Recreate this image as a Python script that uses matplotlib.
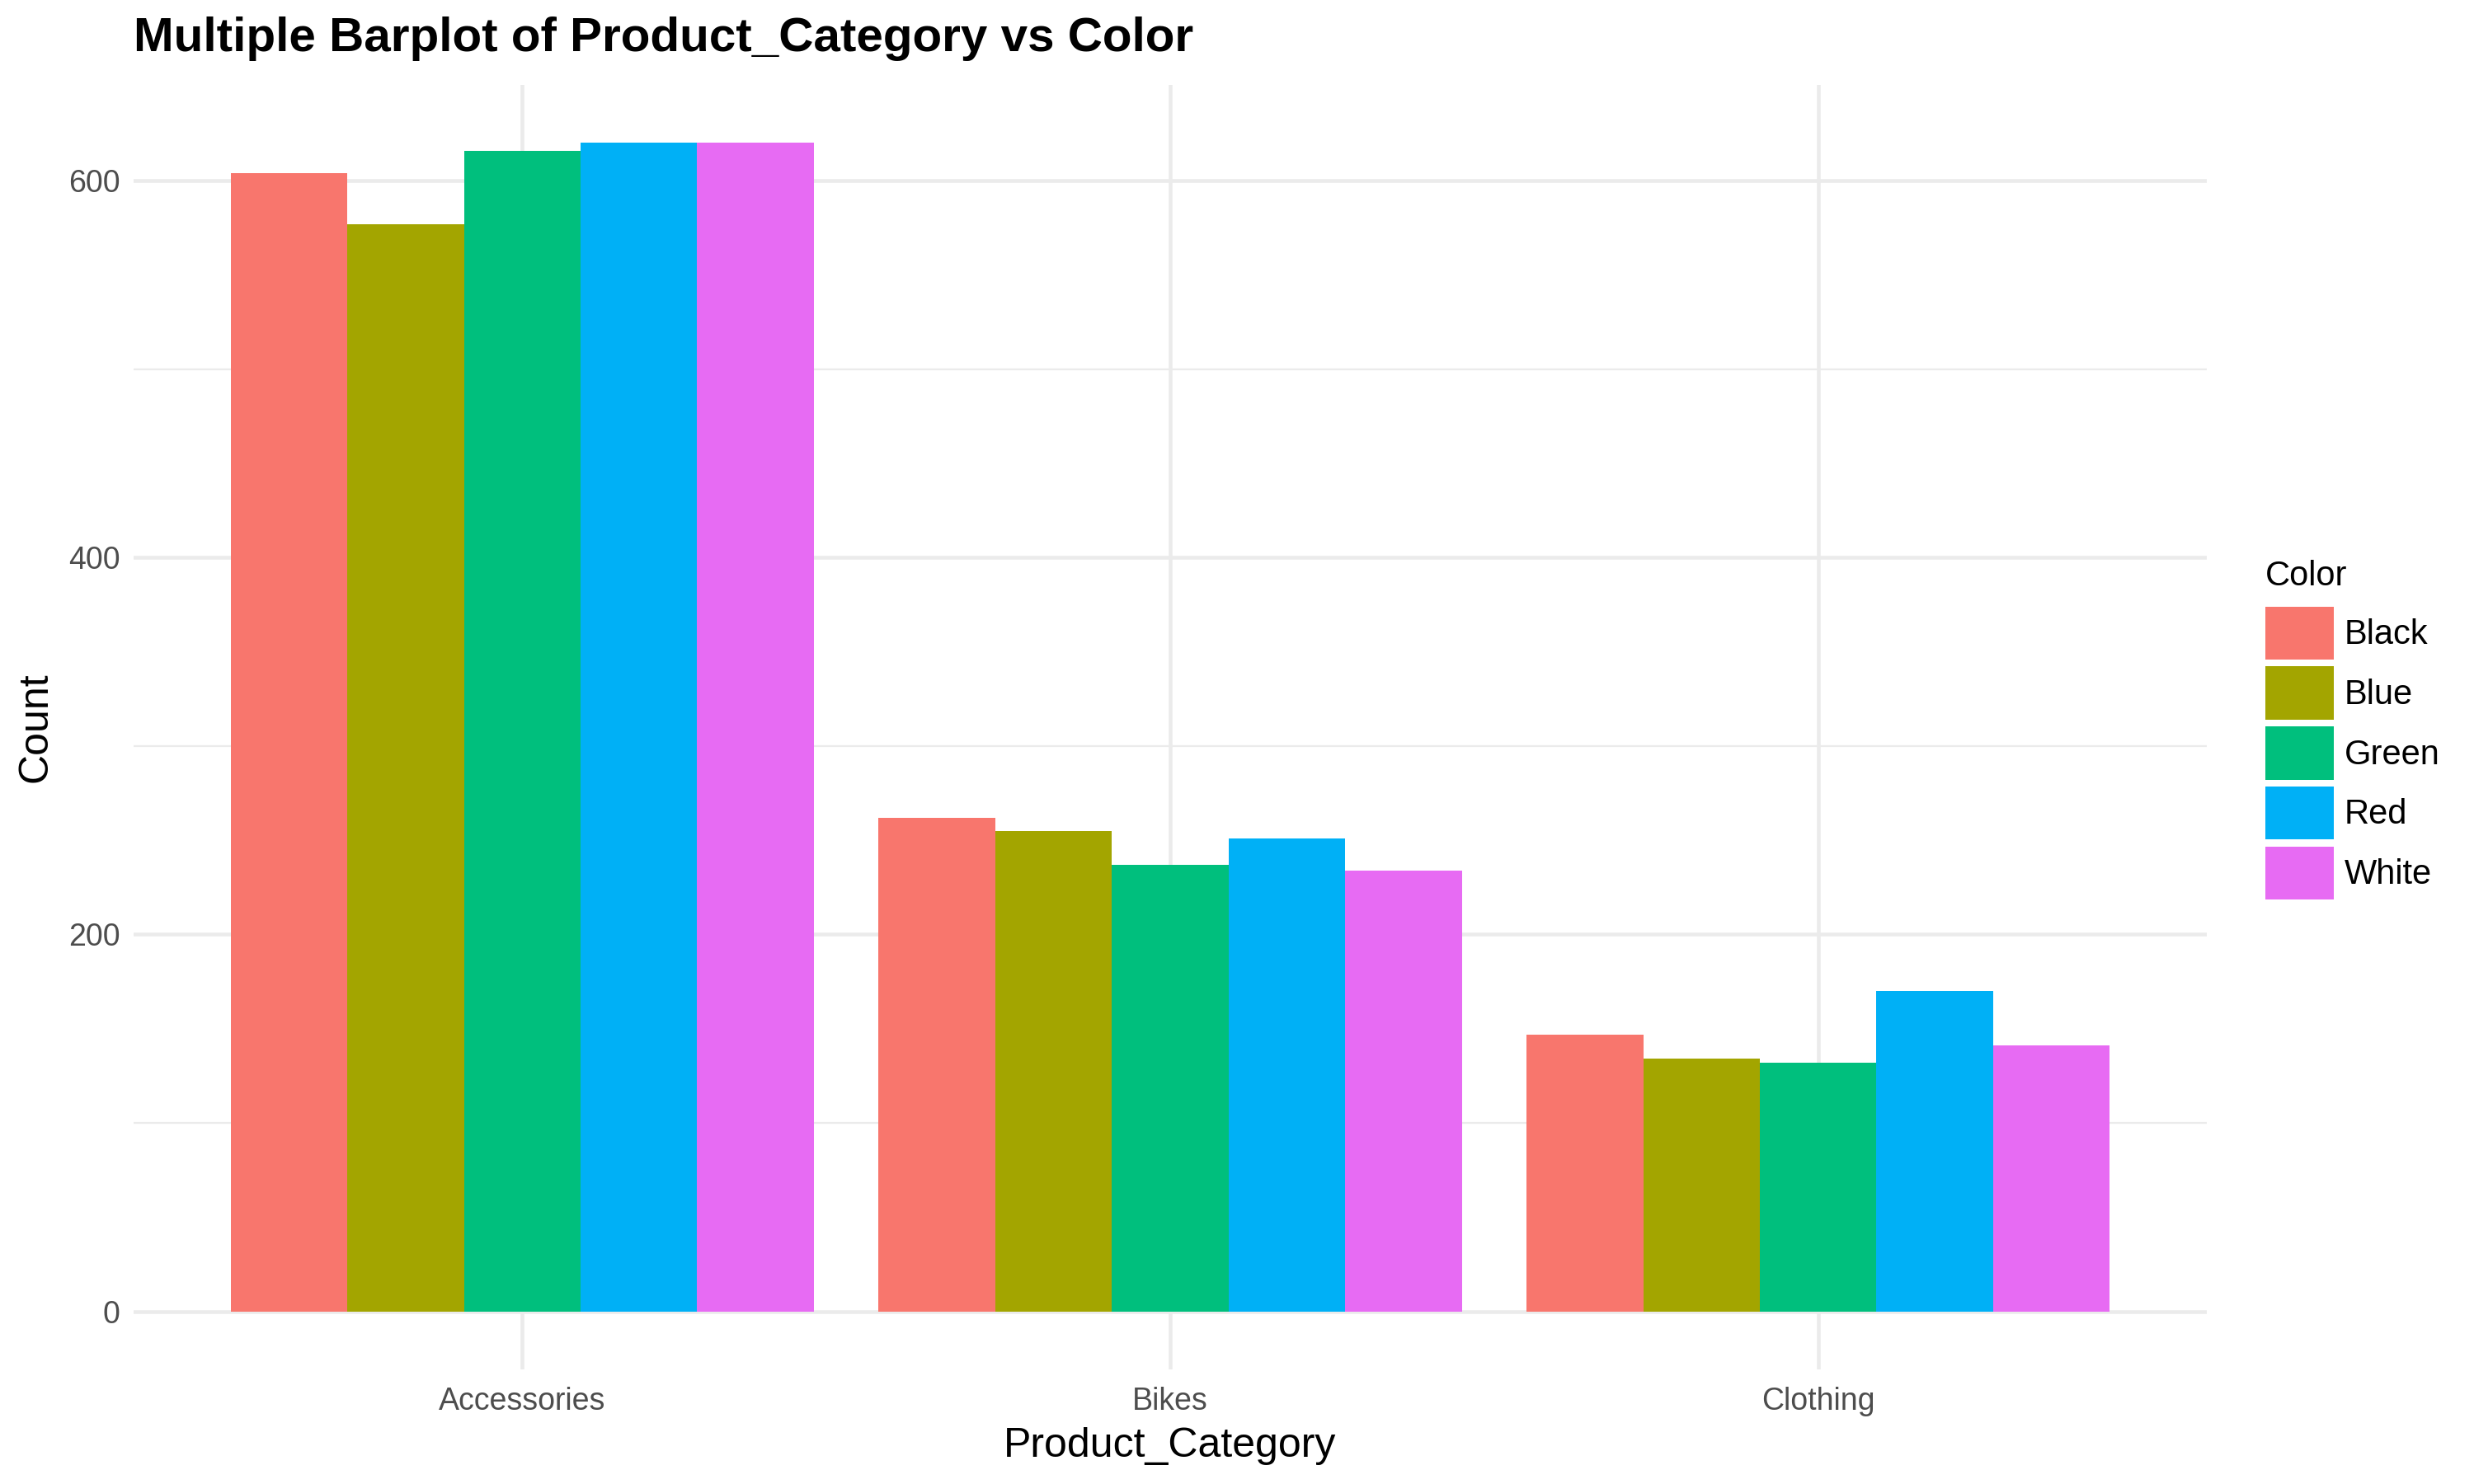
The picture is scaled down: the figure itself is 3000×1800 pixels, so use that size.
import numpy as np
import matplotlib
matplotlib.use("Agg")
import matplotlib.pyplot as plt
from matplotlib.patches import Patch

plt.rcParams['font.family'] = ['Liberation Sans', 'DejaVu Sans']

categories = ["Accessories", "Bikes", "Clothing"]
colors_names = ["Black", "Blue", "Green", "Red", "White"]
counts = {
    "Black": [604, 262, 147],
    "Blue": [577, 255, 134],
    "Green": [616, 237, 132],
    "Red": [620, 251, 170],
    "White": [620, 234, 141],
}
palette = ["#F8766D", "#A3A500", "#00BF7D", "#00B0F6", "#E76BF3"]

fig = plt.figure(figsize=(10, 6), dpi=300)
ax = fig.add_axes([0.054, 0.077, 0.838, 0.866])

x = np.arange(len(categories))
n = len(colors_names)
w = 0.9 / n
for i, name in enumerate(colors_names):
    ax.bar(x - 0.45 + w * (i + 0.5), counts[name], width=w, color=palette[i],
           linewidth=0, zorder=3)

ax.set_xlim(-0.6, 2.6)
ymax = 620
ax.set_ylim(-0.05 * ymax, ymax * 1.05)
ax.set_yticks([0, 200, 400, 600])
ax.set_yticks([100, 300, 500], minor=True)
ax.set_xticks(x)
ax.set_xticklabels(categories)

for s in ax.spines.values():
    s.set_visible(False)
ax.grid(which='major', color='#EBEBEB', linewidth=1.1, zorder=0)
ax.grid(which='minor', axis='y', color='#EBEBEB', linewidth=0.55, zorder=0)
ax.tick_params(which='both', length=0, labelsize=9, labelcolor='#4D4D4D')
ax.tick_params(axis='x', pad=5)
ax.tick_params(axis='y', pad=4)

ax.set_xlabel("Product_Category", fontsize=12, labelpad=3)
ax.set_ylabel("Count", fontsize=12, labelpad=4)
fig.text(0.054, 0.974, "Multiple Barplot of Product_Category vs Color",
         fontsize=14, fontweight='bold', va='center', ha='left')

handles = [Patch(facecolor=c, edgecolor='none') for c in palette]
leg = fig.legend(handles, colors_names, title="Color", loc='upper left',
                 bbox_to_anchor=(0.910, 0.632), frameon=False,
                 fontsize=10, title_fontsize=10,
                 handlelength=2.0, handleheight=2.0, handletextpad=0.3,
                 labelspacing=0.2, borderaxespad=0)
leg._legend_box.align = "left"
leg._legend_box.sep = 4

fig.savefig("out.png", dpi=300)
